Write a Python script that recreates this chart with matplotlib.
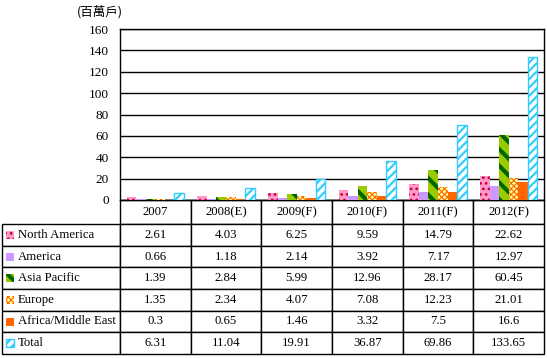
import numpy as np
import matplotlib.pyplot as plt
from matplotlib.patches import Rectangle
from matplotlib.table import Table

# データ
years = ['2007', '2008(E)', '2009(F)', '2010(F)', '2011(F)', '2012(F)']
names = ['North America', 'America', 'Asia Pacific', 'Europe',
         'Africa/Middle East', 'Total']
north_america = [2.61, 4.03, 6.25, 9.59, 14.79, 22.62]
america = [0.66, 1.18, 2.14, 3.92, 7.17, 12.97]
asia_pacific = [1.39, 2.84, 5.99, 12.96, 28.17, 60.45]
europe = [1.35, 2.34, 4.07, 7.08, 12.23, 21.01]
africa_me = [0.3, 0.65, 1.46, 3.32, 7.5, 16.6]
total = [6.31, 11.04, 19.91, 36.87, 69.86, 133.65]
series = [north_america, america, asia_pacific, europe, africa_me, total]

# (face, hatch color, hatch, edge linewidth, hatch linewidth)
styles = [
    ('#FF99CC', '#CC0033', '...', 0, 1.2),
    ('#CC99FF', '#CC99FF', None, 0, 1.0),
    ('#99CC00', '#006600', '\\\\', 0, 3.0),
    ('#FFFF99', '#FF6600', 'xxxxxx', 0, 0.8),
    ('#FF6600', '#FF6600', None, 0, 1.0),
    ('white', '#33CCFF', '////', 1.0, 1.6),
]


def style_patch(p, st):
    face, hcol, hatch, lw, hlw = st
    p.set_facecolor(face)
    p.set_edgecolor(hcol)
    p.set_linewidth(lw)
    if hatch:
        p.set_hatch(hatch)
        if hasattr(p, 'set_hatch_linewidth'):
            p.set_hatch_linewidth(hlw)


def main():
    plt.rcParams['font.family'] = ['Liberation Serif', 'Noto Sans CJK TC']
    plt.rcParams['hatch.linewidth'] = 1.5

    W, H = 547, 358
    fig = plt.figure(figsize=(W / 100, H / 100), dpi=100)
    # plot area in pixels: x 120..544, y 29..200
    AW, AH = 424, 171
    ax = fig.add_axes([120 / W, 1 - 200 / H, AW / W, AH / H])

    x = np.arange(len(years))
    w = 0.135
    for i, (vals, st) in enumerate(zip(series, styles)):
        bars = ax.bar(x + (i - 2.5) * w, vals, w, zorder=3)
        for b in bars:
            style_patch(b, st)

    ax.set_xlim(-0.5, len(years) - 0.5)
    ax.set_ylim(0, 160)
    ax.set_yticks(range(0, 161, 20))
    ax.set_xticks([])
    ax.yaxis.grid(True, color='black', linewidth=1)
    ax.set_axisbelow(True)
    ax.tick_params(axis='y', length=0, pad=8, labelsize=9.5,
                   labelfontfamily='Liberation Serif')
    for s in ax.spines.values():
        s.set_color('black')
        s.set_linewidth(1)

    # 表 (axes units)
    label_w, col_w = 118 / AW, 1 / len(years)
    head_h, row_h = 24 / AH, (130 / 6) / AH
    tbl = Table(ax, bbox=[0, -154 / AH, 1, 154 / AH])
    tbl.auto_set_font_size(False)
    for c, yr in enumerate(years):
        tbl.add_cell(0, c, col_w, head_h, text=yr, loc='center',
                     facecolor='white')
    for r, (name, vals) in enumerate(zip(names, series), start=1):
        cell = tbl.add_cell(r, -1, label_w, row_h, text=name, loc='left',
                            facecolor='white')
        cell.PAD = 16 / 118
        for c, v in enumerate(vals):
            tbl.add_cell(r, c, col_w, row_h, text=str(v), loc='center',
                         facecolor='white')
    tbl.set_fontsize(9.2)
    for cell in tbl.get_celld().values():
        cell.set_linewidth(1)
    ax.add_table(tbl)

    # 凡例の色見本
    for r, st in enumerate(styles, start=1):
        cy = 224 + (r - 0.5) * 130 / 6
        sw = Rectangle((6 / W, 1 - (cy + 4) / H), 8 / W, 8 / H,
                       transform=fig.transFigure)
        style_patch(sw, st)
        fig.add_artist(sw)

    fig.text(100 / W, 1 - 12 / H, '(百萬戶)', ha='center', va='center',
             fontsize=9, family=['Noto Sans CJK TC'])

    plt.savefig('out.png', dpi=100)


if __name__ == '__main__':
    main()
